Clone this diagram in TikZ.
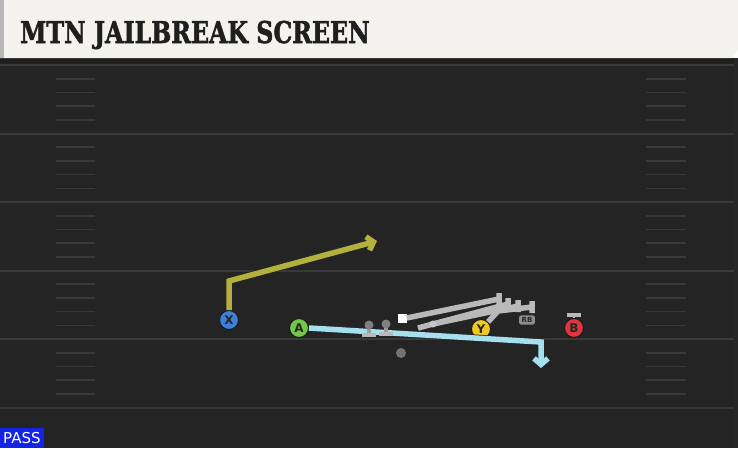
\documentclass[tikz,border=0pt]{standalone}
\usepackage{fontspec}
\setmainfont{DejaVu Sans}
\newfontfamily\titlefont{DejaVu Serif}[BoldFeatures={FakeBold=1.8}]
\usetikzlibrary{arrows.meta}
\definecolor{cream}{HTML}{F4F2EC}
\definecolor{field}{HTML}{242424}
\definecolor{yardline}{HTML}{393939}
\definecolor{xblue}{HTML}{3F7FD8}
\definecolor{agreen}{HTML}{72C74A}
\definecolor{yyellow}{HTML}{F2C81E}
\definecolor{bred}{HTML}{E0343E}
\definecolor{olive}{HTML}{B2B13E}
\definecolor{skyblue}{HTML}{A6E0EE}
\definecolor{blockgrey}{HTML}{B9B9B9}
\definecolor{passblue}{HTML}{1424E6}

\begin{document}
\begin{tikzpicture}[x=1pt, y=-1pt,
    player/.style={circle, draw=black!90, line width=1pt, minimum size=19pt,
      inner sep=0pt, font=\bfseries\fontsize{12}{12}\selectfont, text=black!85},
    route/.style={line width=5.5pt, line join=miter,
      preaction={draw=black!85, line width=7pt}},
    blocker/.style={line width=5.5pt, draw=blockgrey},
    hash/.style={yardline, line width=1.6pt}]
  \useasboundingbox (0,0) rectangle (738,448);
  % field and title bar
  \fill[field] (0,58) rectangle (738,448);
  \fill[black!88] (0,58) rectangle (738,63);
  \fill[black!85] (734,58) rectangle (738,448);
  \fill[cream] (0,0) -- (738,0) -- (738,50) -- (732,58) -- (0,58) -- cycle;
  \fill[black!28] (0,0) rectangle (4,58);
  \node[anchor=base west, inner sep=0pt, xscale=0.79, text=black!88,
    font=\titlefont\bfseries\fontsize{30}{30}\selectfont] (title) at (20,43)
    {MTN JAILBREAK SCREEN};
  % yard lines and hash marks
  \foreach \y in {65,133.5,202,270.5,339,407.5}
    \draw[yardline, line width=2pt] (0,\y) -- (734,\y);
  \foreach \y in {65,133.5,202,270.5,339}
    \foreach \k in {1,...,4} {
      \draw[hash] (56,\y+13.7*\k) -- (95,\y+13.7*\k);
      \draw[hash] (646,\y+13.7*\k) -- (686,\y+13.7*\k);
    }
  % line
  \node[fill=white, minimum size=9pt, inner sep=0pt] (c) at (402,318) {};
  \coordinate (lg) at (386,324);
  \coordinate (lt) at (369,325);
  \node[circle, fill=black!55, minimum size=10pt, inner sep=0pt] (qb) at (401,353) {};
  % screen blocks
  \draw[blocker] (c.east) -- (499,299) ++(0,-6) -- ++(0,12);
  \draw[blocker] (418,328) -- (508,304) ++(0,-6) -- ++(0,12);
  \draw[blocker] (433,324) -- (518,306) ++(0,-6) -- ++(0,12);
  \node[circle, fill=blockgrey!80!white, minimum size=7pt, inner sep=0pt] (rg) at (433,324) {};
  % players
  \node[player, fill=xblue] (x) at (229,320) {X};
  \node[player, fill=agreen] (a) at (299,328) {A};
  \node[player, fill=yyellow] (y) at (481,329) {Y};
  \node[player, fill=bred] (b) at (574,328) {B};
  \node[fill=black!45, rounded corners=2pt, inner xsep=2.5pt, inner ysep=2pt, text=black!85,
    font=\bfseries\fontsize{7}{7}\selectfont] (rb) at (527,320) {RB};
  \draw[blocker] (y.north east) -- (498,311) -- (532,307) ++(0,-6) -- ++(0,12);
  % routes
  \coordinate (xbreak) at (229,281);
  \coordinate (xend) at (377,241);
  \draw[route, olive, -{Straight Barb[length=6pt, width=14pt]}]
    (x.north) -- (xbreak) -- (xend);
  \coordinate (abreak) at (541,342);
  \coordinate (aend) at (541,368);
  \draw[route, skyblue, -{Straight Barb[length=6pt, width=14pt]}]
    (a.east) -- (abreak) -- (aend);
  % pass blocks
  \foreach \p in {lt,lg} {
    \draw[blockgrey!85!black, line width=3.5pt] (\p) -- ([yshift=-9pt]\p);
    \fill[blockgrey] ([xshift=-7pt, yshift=-8pt]\p) rectangle ([xshift=7pt, yshift=-12pt]\p);
    \fill[black!50] (\p) circle (4.5pt);
  }
  \draw[blockgrey, line width=2.5pt] (b.north) -- (574,315);
  \fill[blockgrey] (567,313) rectangle (581,317);
  % play type
  \node[fill=passblue, text=white, anchor=south west, inner xsep=3pt, inner ysep=0pt,
    font=\fontsize{15}{15}\selectfont, minimum height=20pt] (pass) at (0,448) {PASS};
\end{tikzpicture}
\end{document}
